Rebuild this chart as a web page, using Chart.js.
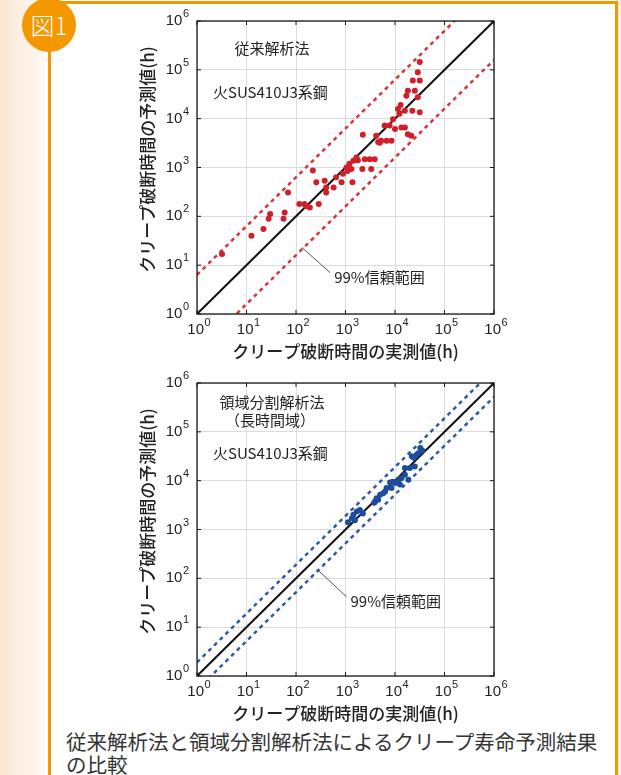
<!DOCTYPE html>
<html>
<head>
<meta charset="utf-8">
<script src="https://cdn.jsdelivr.net/npm/chart.js"></script>
<style>
  html, body { margin: 0; padding: 0; }
  body {
    width: 621px; height: 775px; overflow: hidden; position: relative;
    background: linear-gradient(90deg, #fbe7d3 0px, #fdf3ea 30px, #ffffff 60px, #ffffff 600px, #fdf1e6 621px);
    font-family: "Noto Sans CJK JP", sans-serif;
  }
  #panel {
    position: absolute; left: 48px; top: 1px; width: 564px; height: 790px;
    background: #fff; border-left: 3px solid #f39800; border-top: 3px solid #f39800; border-right: 3px solid #f39800;
  }
  #badge {
    position: absolute; left: 22px; top: -2px; width: 54px; height: 54px; border-radius: 50%;
    background: #f39800; color: #fff; font-size: 24px; font-weight: 300; line-height: 54px; text-align: center;
  }
  canvas { position: absolute; left: 0; }
  #c1 { top: 0; }
  #c2 { top: 362px; }
  #caption {
    position: absolute; left: 66px; top: 730px; width: 545px;
    font-size: 20.5px; line-height: 23px; color: #333;
  }
</style>
</head>
<body>
<div id="panel"></div>
<div id="badge">図1</div>
<canvas id="c1" width="621" height="362"></canvas>
<canvas id="c2" width="621" height="362"></canvas>
<div id="caption">従来解析法と領域分割解析法によるクリープ寿命予測結果<br>の比較</div>
<script>
// decade ticks for both axes
const tickValues = [1, 10, 100, 1e3, 1e4, 1e5, 1e6];
const tickExponents = ['0', '1', '2', '3', '4', '5', '6'];

// 従来解析法: [measured, predicted] (h)
const conventionalPoints = [
  [3.2, 17], [12.6, 40], [22, 55], [28, 89], [30, 112], [56, 89], [59, 120], [69, 309],
  [117, 178], [148, 178], [190, 151], [288, 178], [219, 871], [257, 501], [380, 537],
  [407, 309], [407, 389], [575, 389], [646, 631], [832, 501], [891, 741], [1047, 1000],
  [1380, 501], [1318, 933], [1445, 1380], [1778, 1413], [2188, 933], [2455, 1479],
  [3090, 1479], [3311, 933], [3890, 1479], [2239, 4677], [4169, 4467], [4571, 3311],
  [5248, 3548], [6761, 3548], [8511, 3548], [6166, 7244], [7762, 7244], [9120, 9772],
  [10000, 6166], [13490, 6607], [15850, 6607], [18200, 4786], [21380, 4467],
  [11480, 15850], [12300, 12590], [15850, 14450], [22390, 14450], [31620, 13490],
  [16980, 29510], [18200, 37150], [25120, 37150], [28840, 27540], [22910, 60260],
  [31620, 60260], [28840, 89130], [31620, 144500],
  [1200, 1200], [1660, 1600], [4900, 3200], [13000, 19000], [1100, 850], [160, 160]
];
const conventionalBandUpper = [[1, 6.3], [1e6, 6.3e6]];
const conventionalBandLower = [[1, 0.16], [1e6, 1.6e5]];

// 領域分割解析法（長時間域）
const regionPoints = [
  [1122, 1413], [1349, 1698], [1445, 1995], [1549, 1549], [1698, 2344], [1950, 2512],
  [2239, 2138], [3802, 3548], [4266, 4365], [4571, 4074], [5012, 5129], [5754, 5495],
  [6310, 6026], [6761, 7079], [8511, 7079], [7943, 9120], [10000, 8913], [11750, 10470],
  [12590, 8318], [13490, 11220], [15850, 13180], [18620, 10470], [15850, 18200],
  [19950, 18200], [25120, 19500], [21880, 31620], [23990, 29510], [27540, 33880],
  [29510, 36310], [32360, 46770], [35480, 41690], [4000, 3800], [9000, 9500]
];
const regionBandUpper = [[1, 1.9], [1e6, 1.9e6]];
const regionBandLower = [[1, 0.52], [1e6, 5.2e5]];

const identityLine = [[1, 1], [1e6, 1e6]];

const toXY = arr => arr.map(p => ({ x: p[0], y: p[1] }));

function drawPow(ctx, x, y, exp, align) {
  ctx.font = '15px "Liberation Sans", Arial, sans-serif';
  const w1 = ctx.measureText('10').width;
  ctx.font = '11px "Liberation Sans", Arial, sans-serif';
  const w2 = ctx.measureText(exp).width;
  const total = w1 + w2 + 0.5;
  let left = align === 'right' ? x - total : x - total / 2 + 2;
  ctx.textAlign = 'left';
  ctx.textBaseline = 'middle';
  ctx.fillStyle = '#222';
  ctx.font = '15px "Liberation Sans", Arial, sans-serif';
  ctx.fillText('10', left, y);
  ctx.font = '11px "Liberation Sans", Arial, sans-serif';
  ctx.fillText(exp, left + w1 + 0.5, y - 7);
}

const framePlugin = {
  id: 'frame',
  afterDraw(chart, args, opts) {
    const { ctx, chartArea: a, scales: { x, y } } = chart;
    ctx.save();
    // box
    ctx.strokeStyle = '#1a1a1a';
    ctx.lineWidth = 1.3;
    ctx.strokeRect(a.left, a.top, a.width, a.height);
    // inward ticks
    ctx.lineWidth = 1;
    tickValues.forEach(v => {
      const px = x.getPixelForValue(v), py = y.getPixelForValue(v);
      ctx.beginPath();
      ctx.moveTo(px, a.bottom); ctx.lineTo(px, a.bottom - 4);
      ctx.moveTo(px, a.top); ctx.lineTo(px, a.top + 4);
      ctx.moveTo(a.left, py); ctx.lineTo(a.left + 4, py);
      ctx.moveTo(a.right, py); ctx.lineTo(a.right - 4, py);
      ctx.stroke();
    });
    // tick labels
    tickValues.forEach((v, i) => {
      drawPow(ctx, x.getPixelForValue(v), a.bottom + 16, tickExponents[i], 'center');
      drawPow(ctx, a.left - 8, y.getPixelForValue(v), tickExponents[i], 'right');
    });
    // axis titles
    ctx.fillStyle = '#222';
    ctx.font = '500 17px "Noto Sans CJK JP", sans-serif';
    ctx.textAlign = 'center';
    ctx.textBaseline = 'middle';
    ctx.fillText('クリープ破断時間の実測値(h)', (a.left + a.right) / 2, a.bottom + 38);
    ctx.save();
    ctx.translate(a.left - 49, (a.top + a.bottom) / 2 - 8);
    ctx.rotate(-Math.PI / 2);
    ctx.fillText('クリープ破断時間の予測値(h)', 0, 0);
    ctx.restore();
    // labels inside the plot
    ctx.font = '15px "Noto Sans CJK JP", sans-serif';
    ctx.fillStyle = '#222';
    opts.labels.forEach(l => {
      ctx.textAlign = l.align;
      ctx.fillText(l.text, a.left + l.dx, a.top + l.dy);
    });
    // 99% band callout
    const c = opts.callout;
    ctx.strokeStyle = '#555';
    ctx.lineWidth = 1;
    ctx.beginPath();
    ctx.moveTo(x.getPixelForValue(c.from[0]), y.getPixelForValue(c.from[1]));
    ctx.lineTo(x.getPixelForValue(c.to[0]), y.getPixelForValue(c.to[1]));
    ctx.stroke();
    ctx.textAlign = 'left';
    ctx.font = '15px "Noto Sans CJK JP", sans-serif';
    ctx.fillText('99%信頼範囲', x.getPixelForValue(c.to[0]) + 4, y.getPixelForValue(c.to[1]) + 5);
    ctx.restore();
  }
};

function makeChart(id, points, upper, lower, dotColor, dashColor, labels, callout) {
  return new Chart(document.getElementById(id), {
    type: 'scatter',
    data: {
      datasets: [
        { data: toXY(points), backgroundColor: dotColor, borderColor: dotColor, pointRadius: 3, borderWidth: 0 },
        { data: toXY(identityLine), showLine: true, borderColor: '#111', borderWidth: 2, pointRadius: 0 },
        { data: toXY(upper), showLine: true, borderColor: dashColor, borderWidth: 2.5, borderDash: [4, 4], pointRadius: 0 },
        { data: toXY(lower), showLine: true, borderColor: dashColor, borderWidth: 2.5, borderDash: [4, 4], pointRadius: 0 }
      ]
    },
    options: {
      responsive: false,
      animation: false,
      layout: { padding: { left: 197, right: 127, top: 21, bottom: 48 } },
      plugins: {
        legend: { display: false },
        tooltip: { enabled: false },
        frame: { labels: labels, callout: callout }
      },
      scales: {
        x: {
          type: 'logarithmic', min: 1, max: 1e6,
          afterBuildTicks: s => { s.ticks = tickValues.map(v => ({ value: v })); },
          ticks: { display: false },
          grid: { color: '#dcdcdc', drawTicks: false },
          border: { display: false }
        },
        y: {
          type: 'logarithmic', min: 1, max: 1e6,
          afterBuildTicks: s => { s.ticks = tickValues.map(v => ({ value: v })); },
          ticks: { display: false },
          grid: { color: '#dcdcdc', drawTicks: false },
          border: { display: false }
        }
      }
    },
    plugins: [framePlugin]
  });
}

makeChart('c1', conventionalPoints, conventionalBandUpper, conventionalBandLower, '#d11f2a', '#d8343f',
  [{ text: '従来解析法', dx: 75, dy: 27, align: 'center' },
   { text: '火SUS410J3系鋼', dx: 16, dy: 71, align: 'left' }],
  { from: [132, 23], to: [490, 7] });

makeChart('c2', regionPoints, regionBandUpper, regionBandLower, '#1d4c9c', '#2f5aa6',
  [{ text: '領域分割解析法', dx: 75, dy: 19, align: 'center' },
   { text: '（長時間域）', dx: 73, dy: 37, align: 'center' },
   { text: '火SUS410J3系鋼', dx: 16, dy: 70, align: 'left' }],
  { from: [263, 155], to: [1047, 42] });
</script>
</body>
</html>
